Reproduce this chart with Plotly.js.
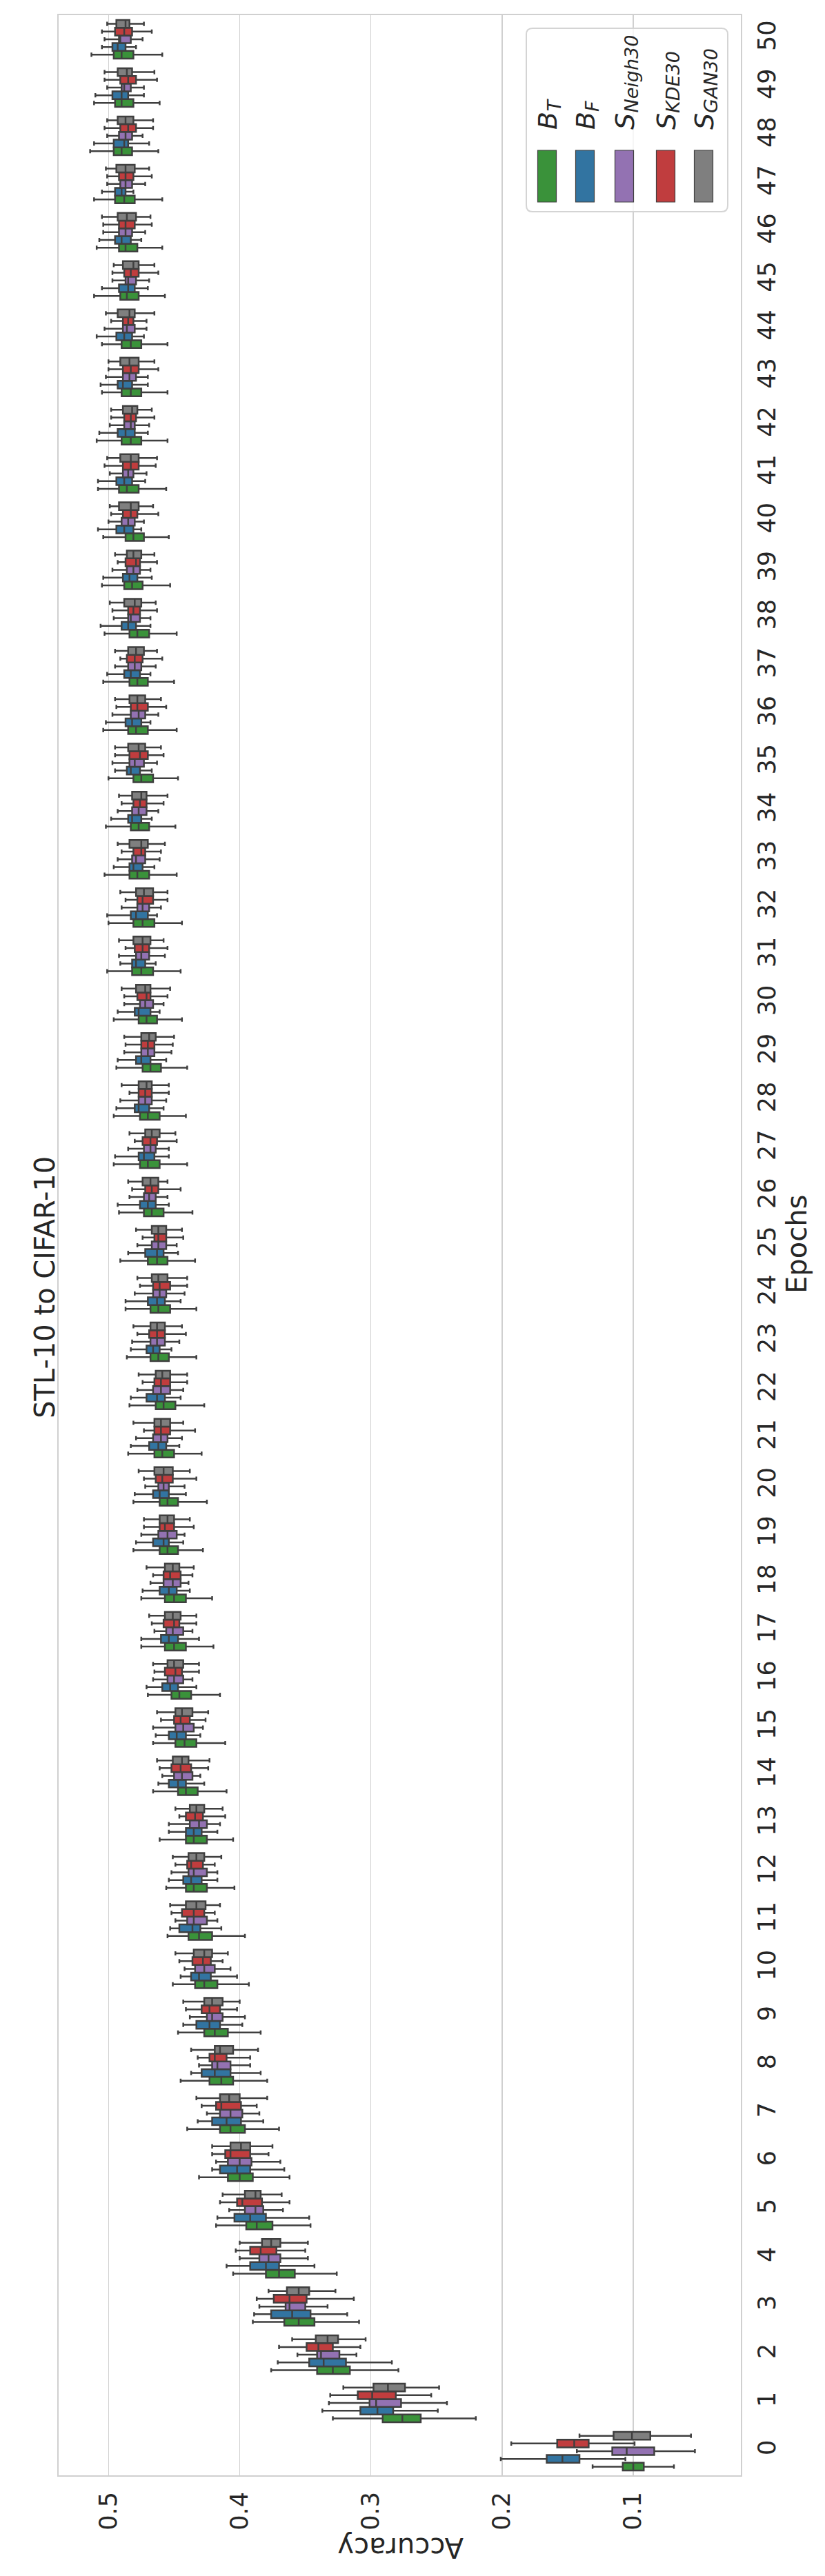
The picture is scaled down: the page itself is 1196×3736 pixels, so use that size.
<!DOCTYPE html>
<html><head><meta charset="utf-8">
<script src="https://cdn.plot.ly/plotly-3.0.1.min.js"></script>
<style>html,body{margin:0;padding:0;background:#fff}</style>
</head><body>
<div id="chart" style="width:1196px;height:3736px"></div>
<script>
const epochs = ['0','1','2','3','4','5','6','7','8','9','10','11','12','13','14','15','16','17','18','19','20','21','22','23','24','25','26','27','28','29','30','31','32','33','34','35','36','37','38','39','40','41','42','43','44','45','46','47','48','49','50'];
const accTicks = [0.1, 0.2, 0.3, 0.4, 0.5];
const accTickText = ['0.1', '0.2', '0.3', '0.4', '0.5'];
const seriesMain = ['B', 'B', 'S', 'S', 'S'];
const seriesSub = ['T', 'F', 'Neigh30', 'KDE30', 'GAN30'];
const seriesColors = ['#3a923a', '#3274a1', '#9372b2', '#c03d3e', '#7f7f7f'];

// B_T (green)
const BT_lo  = [0.069,0.220,0.279,0.309,0.326,0.346,0.362,0.370,0.379,0.384,0.393,0.396,0.404,0.405,0.410,0.411,0.415,0.420,0.421,0.428,0.425,0.429,0.427,0.433,0.433,0.434,0.436,0.440,0.441,0.440,0.444,0.445,0.444,0.448,0.449,0.447,0.448,0.450,0.448,0.453,0.454,0.456,0.455,0.455,0.455,0.457,0.459,0.459,0.462,0.461,0.459];
const BT_q1  = [0.092,0.262,0.316,0.343,0.358,0.375,0.390,0.396,0.405,0.409,0.417,0.421,0.425,0.425,0.432,0.433,0.437,0.441,0.441,0.447,0.447,0.450,0.449,0.454,0.453,0.455,0.458,0.461,0.461,0.460,0.463,0.466,0.465,0.469,0.469,0.466,0.470,0.470,0.469,0.474,0.473,0.477,0.475,0.475,0.475,0.477,0.478,0.480,0.482,0.481,0.481];
const BT_med = [0.100,0.276,0.329,0.355,0.370,0.387,0.400,0.407,0.414,0.419,0.427,0.431,0.435,0.435,0.441,0.442,0.446,0.450,0.450,0.455,0.455,0.459,0.458,0.462,0.462,0.463,0.467,0.470,0.470,0.468,0.471,0.475,0.474,0.478,0.477,0.475,0.479,0.478,0.478,0.482,0.481,0.486,0.483,0.483,0.483,0.486,0.487,0.488,0.490,0.490,0.490];
const BT_q3  = [0.108,0.291,0.341,0.366,0.380,0.395,0.409,0.415,0.423,0.427,0.434,0.439,0.441,0.441,0.447,0.449,0.452,0.457,0.457,0.461,0.461,0.465,0.464,0.468,0.468,0.470,0.473,0.476,0.476,0.474,0.477,0.482,0.481,0.484,0.483,0.481,0.485,0.484,0.484,0.488,0.487,0.492,0.490,0.490,0.490,0.491,0.492,0.495,0.496,0.495,0.496];
const BT_hi  = [0.131,0.329,0.376,0.390,0.405,0.418,0.431,0.440,0.445,0.447,0.451,0.455,0.456,0.461,0.466,0.466,0.470,0.475,0.475,0.481,0.481,0.485,0.484,0.486,0.487,0.491,0.492,0.496,0.496,0.494,0.496,0.501,0.500,0.503,0.502,0.500,0.504,0.504,0.503,0.505,0.504,0.508,0.509,0.505,0.505,0.511,0.509,0.511,0.514,0.511,0.513];

// B_F (blue)
const BF_lo  = [0.106,0.249,0.284,0.318,0.343,0.347,0.366,0.382,0.384,0.398,0.402,0.414,0.417,0.417,0.427,0.430,0.433,0.431,0.438,0.443,0.441,0.446,0.445,0.452,0.445,0.447,0.454,0.454,0.458,0.456,0.461,0.464,0.463,0.465,0.467,0.467,0.468,0.468,0.468,0.467,0.475,0.472,0.470,0.470,0.473,0.470,0.475,0.481,0.469,0.473,0.479];
const BF_q1  = [0.141,0.283,0.319,0.346,0.370,0.380,0.392,0.399,0.407,0.415,0.422,0.430,0.429,0.429,0.441,0.441,0.447,0.447,0.448,0.454,0.454,0.456,0.457,0.461,0.457,0.458,0.464,0.465,0.469,0.468,0.468,0.472,0.470,0.474,0.475,0.476,0.475,0.476,0.479,0.478,0.481,0.482,0.480,0.482,0.482,0.480,0.483,0.487,0.485,0.485,0.487];
const BF_med = [0.154,0.295,0.336,0.360,0.380,0.392,0.402,0.410,0.419,0.423,0.431,0.436,0.437,0.435,0.447,0.448,0.453,0.454,0.454,0.458,0.461,0.462,0.463,0.466,0.463,0.463,0.470,0.473,0.477,0.475,0.477,0.479,0.479,0.481,0.482,0.483,0.482,0.483,0.485,0.484,0.488,0.488,0.487,0.489,0.488,0.485,0.490,0.490,0.488,0.490,0.493];
const BF_q3  = [0.166,0.308,0.347,0.376,0.392,0.404,0.415,0.421,0.429,0.433,0.437,0.446,0.443,0.441,0.454,0.454,0.459,0.460,0.461,0.466,0.466,0.469,0.471,0.471,0.470,0.472,0.476,0.477,0.480,0.479,0.480,0.482,0.483,0.484,0.485,0.486,0.487,0.488,0.490,0.489,0.494,0.494,0.493,0.493,0.494,0.492,0.495,0.495,0.496,0.497,0.497];
const BF_hi  = [0.201,0.337,0.371,0.389,0.410,0.417,0.421,0.432,0.437,0.443,0.445,0.453,0.454,0.454,0.462,0.464,0.471,0.475,0.474,0.479,0.480,0.483,0.483,0.483,0.487,0.485,0.493,0.495,0.494,0.493,0.493,0.491,0.501,0.496,0.498,0.495,0.502,0.501,0.506,0.504,0.508,0.508,0.507,0.506,0.509,0.505,0.507,0.505,0.511,0.510,0.505];

// S_Neigh30 (purple)
const SN_lo  = [0.053,0.242,0.311,0.333,0.348,0.367,0.369,0.385,0.392,0.396,0.407,0.417,0.417,0.415,0.430,0.428,0.436,0.436,0.439,0.442,0.442,0.444,0.443,0.446,0.442,0.448,0.455,0.454,0.456,0.452,0.458,0.457,0.460,0.461,0.462,0.463,0.462,0.464,0.468,0.468,0.473,0.471,0.469,0.470,0.471,0.469,0.472,0.472,0.474,0.473,0.474];
const SN_q1  = [0.084,0.277,0.324,0.350,0.369,0.382,0.391,0.398,0.407,0.413,0.419,0.425,0.425,0.425,0.436,0.435,0.443,0.443,0.445,0.448,0.454,0.455,0.453,0.457,0.456,0.456,0.464,0.464,0.467,0.465,0.466,0.469,0.469,0.472,0.471,0.473,0.472,0.475,0.476,0.476,0.480,0.481,0.480,0.479,0.480,0.479,0.482,0.482,0.482,0.483,0.483];
const SN_med = [0.105,0.296,0.338,0.362,0.378,0.388,0.400,0.407,0.417,0.421,0.427,0.435,0.435,0.431,0.444,0.443,0.450,0.451,0.451,0.455,0.458,0.460,0.460,0.463,0.461,0.462,0.469,0.468,0.472,0.470,0.472,0.475,0.474,0.479,0.477,0.480,0.477,0.480,0.483,0.481,0.485,0.485,0.483,0.484,0.486,0.485,0.487,0.487,0.487,0.488,0.491];
const SN_q3  = [0.116,0.301,0.341,0.365,0.385,0.396,0.409,0.415,0.421,0.425,0.434,0.440,0.439,0.438,0.450,0.449,0.455,0.456,0.458,0.462,0.462,0.466,0.466,0.468,0.466,0.467,0.473,0.473,0.477,0.475,0.476,0.479,0.478,0.482,0.482,0.484,0.483,0.485,0.485,0.486,0.490,0.489,0.488,0.489,0.489,0.487,0.492,0.491,0.492,0.490,0.492];
const SN_hi  = [0.143,0.332,0.356,0.385,0.400,0.408,0.418,0.425,0.431,0.438,0.442,0.449,0.452,0.454,0.459,0.466,0.466,0.465,0.468,0.475,0.472,0.479,0.478,0.482,0.480,0.478,0.484,0.485,0.491,0.488,0.488,0.492,0.490,0.493,0.493,0.497,0.497,0.495,0.496,0.497,0.500,0.499,0.499,0.502,0.503,0.497,0.504,0.501,0.501,0.501,0.503];

// S_KDE30 (red)
const SK_lo  = [0.099,0.254,0.308,0.313,0.350,0.362,0.378,0.387,0.392,0.402,0.413,0.419,0.419,0.411,0.424,0.426,0.431,0.433,0.436,0.435,0.433,0.434,0.440,0.441,0.440,0.443,0.445,0.448,0.454,0.451,0.455,0.455,0.455,0.460,0.458,0.458,0.456,0.459,0.463,0.463,0.462,0.464,0.465,0.462,0.471,0.462,0.467,0.467,0.466,0.463,0.467];
const SK_q1  = [0.134,0.281,0.329,0.349,0.372,0.383,0.392,0.399,0.410,0.415,0.422,0.427,0.428,0.428,0.437,0.438,0.444,0.446,0.445,0.450,0.451,0.453,0.453,0.457,0.453,0.456,0.462,0.463,0.467,0.465,0.468,0.469,0.466,0.472,0.471,0.470,0.470,0.474,0.476,0.476,0.478,0.477,0.479,0.477,0.481,0.477,0.480,0.481,0.479,0.479,0.482];
const SK_med = [0.145,0.299,0.340,0.362,0.384,0.398,0.407,0.414,0.419,0.423,0.428,0.435,0.437,0.434,0.445,0.445,0.449,0.450,0.453,0.457,0.459,0.460,0.460,0.463,0.461,0.462,0.467,0.468,0.472,0.470,0.471,0.474,0.474,0.475,0.476,0.476,0.478,0.480,0.481,0.479,0.483,0.483,0.483,0.483,0.485,0.483,0.487,0.487,0.485,0.485,0.488];
const SK_q3  = [0.158,0.310,0.349,0.374,0.392,0.402,0.411,0.418,0.423,0.429,0.436,0.444,0.440,0.441,0.452,0.450,0.457,0.458,0.458,0.461,0.464,0.465,0.465,0.469,0.466,0.465,0.472,0.474,0.477,0.475,0.478,0.480,0.478,0.481,0.481,0.484,0.483,0.486,0.485,0.487,0.489,0.489,0.488,0.489,0.489,0.488,0.492,0.492,0.491,0.491,0.495];
const SK_hi  = [0.193,0.331,0.370,0.387,0.403,0.415,0.421,0.429,0.432,0.441,0.446,0.452,0.449,0.446,0.461,0.460,0.465,0.467,0.466,0.473,0.473,0.473,0.474,0.478,0.476,0.474,0.482,0.480,0.484,0.487,0.488,0.487,0.487,0.490,0.490,0.495,0.494,0.491,0.497,0.493,0.498,0.503,0.498,0.500,0.498,0.497,0.504,0.501,0.503,0.503,0.505];

// S_GAN30 (gray)
const SG_lo  = [0.056,0.248,0.304,0.327,0.348,0.368,0.375,0.379,0.386,0.400,0.409,0.415,0.414,0.413,0.423,0.424,0.431,0.433,0.435,0.438,0.438,0.443,0.440,0.444,0.440,0.444,0.455,0.449,0.454,0.450,0.453,0.458,0.455,0.457,0.455,0.460,0.460,0.463,0.464,0.465,0.466,0.463,0.467,0.465,0.465,0.465,0.468,0.469,0.466,0.465,0.473];
const SG_q1  = [0.087,0.274,0.325,0.347,0.369,0.384,0.392,0.400,0.405,0.413,0.421,0.426,0.427,0.427,0.439,0.436,0.443,0.445,0.446,0.450,0.451,0.453,0.453,0.457,0.455,0.456,0.462,0.461,0.467,0.464,0.468,0.468,0.466,0.470,0.471,0.472,0.472,0.473,0.475,0.475,0.477,0.477,0.478,0.477,0.480,0.477,0.479,0.480,0.481,0.482,0.484];
const SG_med = [0.101,0.287,0.333,0.355,0.376,0.388,0.399,0.408,0.415,0.421,0.427,0.433,0.433,0.433,0.444,0.444,0.450,0.451,0.451,0.455,0.458,0.460,0.459,0.463,0.462,0.462,0.468,0.467,0.471,0.469,0.472,0.474,0.473,0.475,0.475,0.477,0.478,0.479,0.480,0.481,0.483,0.483,0.482,0.484,0.484,0.481,0.486,0.487,0.487,0.486,0.487];
const SG_q3  = [0.115,0.298,0.342,0.364,0.383,0.396,0.407,0.415,0.419,0.427,0.435,0.441,0.439,0.438,0.451,0.449,0.455,0.457,0.457,0.461,0.465,0.465,0.464,0.468,0.467,0.467,0.474,0.472,0.477,0.475,0.479,0.481,0.479,0.484,0.482,0.485,0.484,0.485,0.488,0.486,0.492,0.491,0.489,0.491,0.493,0.489,0.493,0.494,0.493,0.493,0.494];
const SG_hi  = [0.141,0.321,0.360,0.378,0.400,0.413,0.421,0.433,0.437,0.443,0.449,0.453,0.451,0.449,0.463,0.463,0.466,0.469,0.471,0.473,0.477,0.481,0.477,0.481,0.478,0.479,0.485,0.484,0.490,0.488,0.490,0.492,0.491,0.493,0.492,0.495,0.495,0.495,0.499,0.495,0.499,0.501,0.498,0.500,0.502,0.496,0.505,0.502,0.501,0.503,0.501];

const seriesStats = [
  [BT_lo, BT_q1, BT_med, BT_q3, BT_hi],
  [BF_lo, BF_q1, BF_med, BF_q3, BF_hi],
  [SN_lo, SN_q1, SN_med, SN_q3, SN_hi],
  [SK_lo, SK_q1, SK_med, SK_q3, SK_hi],
  [SG_lo, SG_q1, SG_med, SG_q3, SG_hi]
];

const W = 1196, H = 3736;
const M = {l: 85, r: 122, t: 22, b: 146};
const PW = W - M.l - M.r, PH = H - M.t - M.b;
const pxX = x => (x - M.l) / PW;
const pxY = y => (H - M.b - y) / PH;

const FONT = 'DejaVu Sans, Verdana, sans-serif';
const TXT = '#262626';
const EDGE = '#3f3f3f';

const traces = seriesStats.map((s, i) => ({
  type: 'box',
  orientation: 'h',
  name: seriesMain[i] + '_' + seriesSub[i],
  y: epochs,
  lowerfence: s[0], q1: s[1], median: s[2], q3: s[3], upperfence: s[4],
  fillcolor: seriesColors[i],
  line: {color: EDGE, width: 2.5},
  whiskerwidth: 0.55,
  boxpoints: false,
  showlegend: false,
  hoverinfo: 'skip'
}));

// custom legend, rotated like the reference
const legCenters = [793, 848, 905, 965, 1020];
const mainAdvance = {B: 26, S: 24};
const shapes = [];
const annotations = [];
(function(){
  const x0 = 763, x1 = 1055, y0 = 41, y1 = 307, r = 9;
  const X = v => pxX(v), Y = v => pxY(v);
  const path = `M ${X(x0+r)},${Y(y0)} L ${X(x1-r)},${Y(y0)} Q ${X(x1)},${Y(y0)} ${X(x1)},${Y(y0+r)} ` +
    `L ${X(x1)},${Y(y1-r)} Q ${X(x1)},${Y(y1)} ${X(x1-r)},${Y(y1)} L ${X(x0+r)},${Y(y1)} ` +
    `Q ${X(x0)},${Y(y1)} ${X(x0)},${Y(y1-r)} L ${X(x0)},${Y(y0+r)} Q ${X(x0)},${Y(y0)} ${X(x0+r)},${Y(y0)} Z`;
  shapes.push({type: 'path', xref: 'paper', yref: 'paper', path: path,
    fillcolor: 'rgba(255,255,255,0.8)', line: {color: '#d4d4d4', width: 2}, layer: 'above'});
})();
legCenters.forEach((c, i) => {
  shapes.push({type: 'rect', xref: 'paper', yref: 'paper',
    x0: pxX(c - 13.5), x1: pxX(c + 13.5), y0: pxY(293), y1: pxY(218),
    fillcolor: seriesColors[i], line: {color: EDGE, width: 1.2}, layer: 'above'});
  annotations.push({xref: 'paper', yref: 'paper', x: pxX(c + 1), y: pxY(189),
    xanchor: 'center', yanchor: 'bottom', text: seriesMain[i], showarrow: false,
    textangle: -90, borderpad: 0,
    font: {family: FONT, size: 38, color: TXT, style: 'italic'}});
  annotations.push({xref: 'paper', yref: 'paper', x: pxX(c + 10), y: pxY(189 - mainAdvance[seriesMain[i]]),
    xanchor: 'center', yanchor: 'bottom', text: seriesSub[i], showarrow: false,
    textangle: -90, borderpad: 0,
    font: {family: FONT, size: 27, color: TXT, style: 'italic'}});
});

annotations.push({xref: 'paper', yref: 'paper', x: pxX(65), y: pxY(1867), xanchor: 'center', yanchor: 'middle',
  text: 'STL-10 to CIFAR-10', showarrow: false, textangle: -90, font: {family: FONT, size: 40, color: TXT}});
annotations.push({xref: 'paper', yref: 'paper', x: pxX(1155), y: pxY(1805), xanchor: 'center', yanchor: 'middle',
  text: 'Epochs', showarrow: false, textangle: -90, font: {family: FONT, size: 40, color: TXT}});
annotations.push({xref: 'paper', yref: 'paper', x: pxX(581), y: pxY(3695), xanchor: 'center', yanchor: 'middle',
  text: 'Accuracy', showarrow: false, textangle: 180, font: {family: FONT, size: 40, color: TXT}});

const layout = {
  width: W, height: H,
  margin: M,
  paper_bgcolor: '#ffffff', plot_bgcolor: '#ffffff',
  boxmode: 'group', boxgap: 0.2, boxgroupgap: 0,
  showlegend: false,
  font: {family: FONT, color: TXT},
  xaxis: {
    range: [0.538, 0.018],
    tickvals: accTicks, ticktext: accTickText,
    tickangle: -90,
    tickfont: {family: FONT, size: 35, color: TXT},
    showgrid: true, gridcolor: '#d0d0d0', gridwidth: 1.5,
    zeroline: false,
    showline: true, mirror: true, linecolor: '#d0d0d0', linewidth: 2,
    ticks: '', ticklabelstandoff: 8
  },
  yaxis: {
    type: 'category', categoryorder: 'array', categoryarray: epochs,
    range: [-0.5, 50.5],
    side: 'right',
    tickangle: -90,
    tickfont: {family: FONT, size: 35, color: TXT},
    showgrid: false, zeroline: false,
    showline: true, mirror: true, linecolor: '#d0d0d0', linewidth: 2,
    ticks: '', ticklabelstandoff: 6
  },
  shapes: shapes,
  annotations: annotations
};

Plotly.newPlot('chart', traces, layout, {staticPlot: true, displayModeBar: false});
</script>
</body></html>
